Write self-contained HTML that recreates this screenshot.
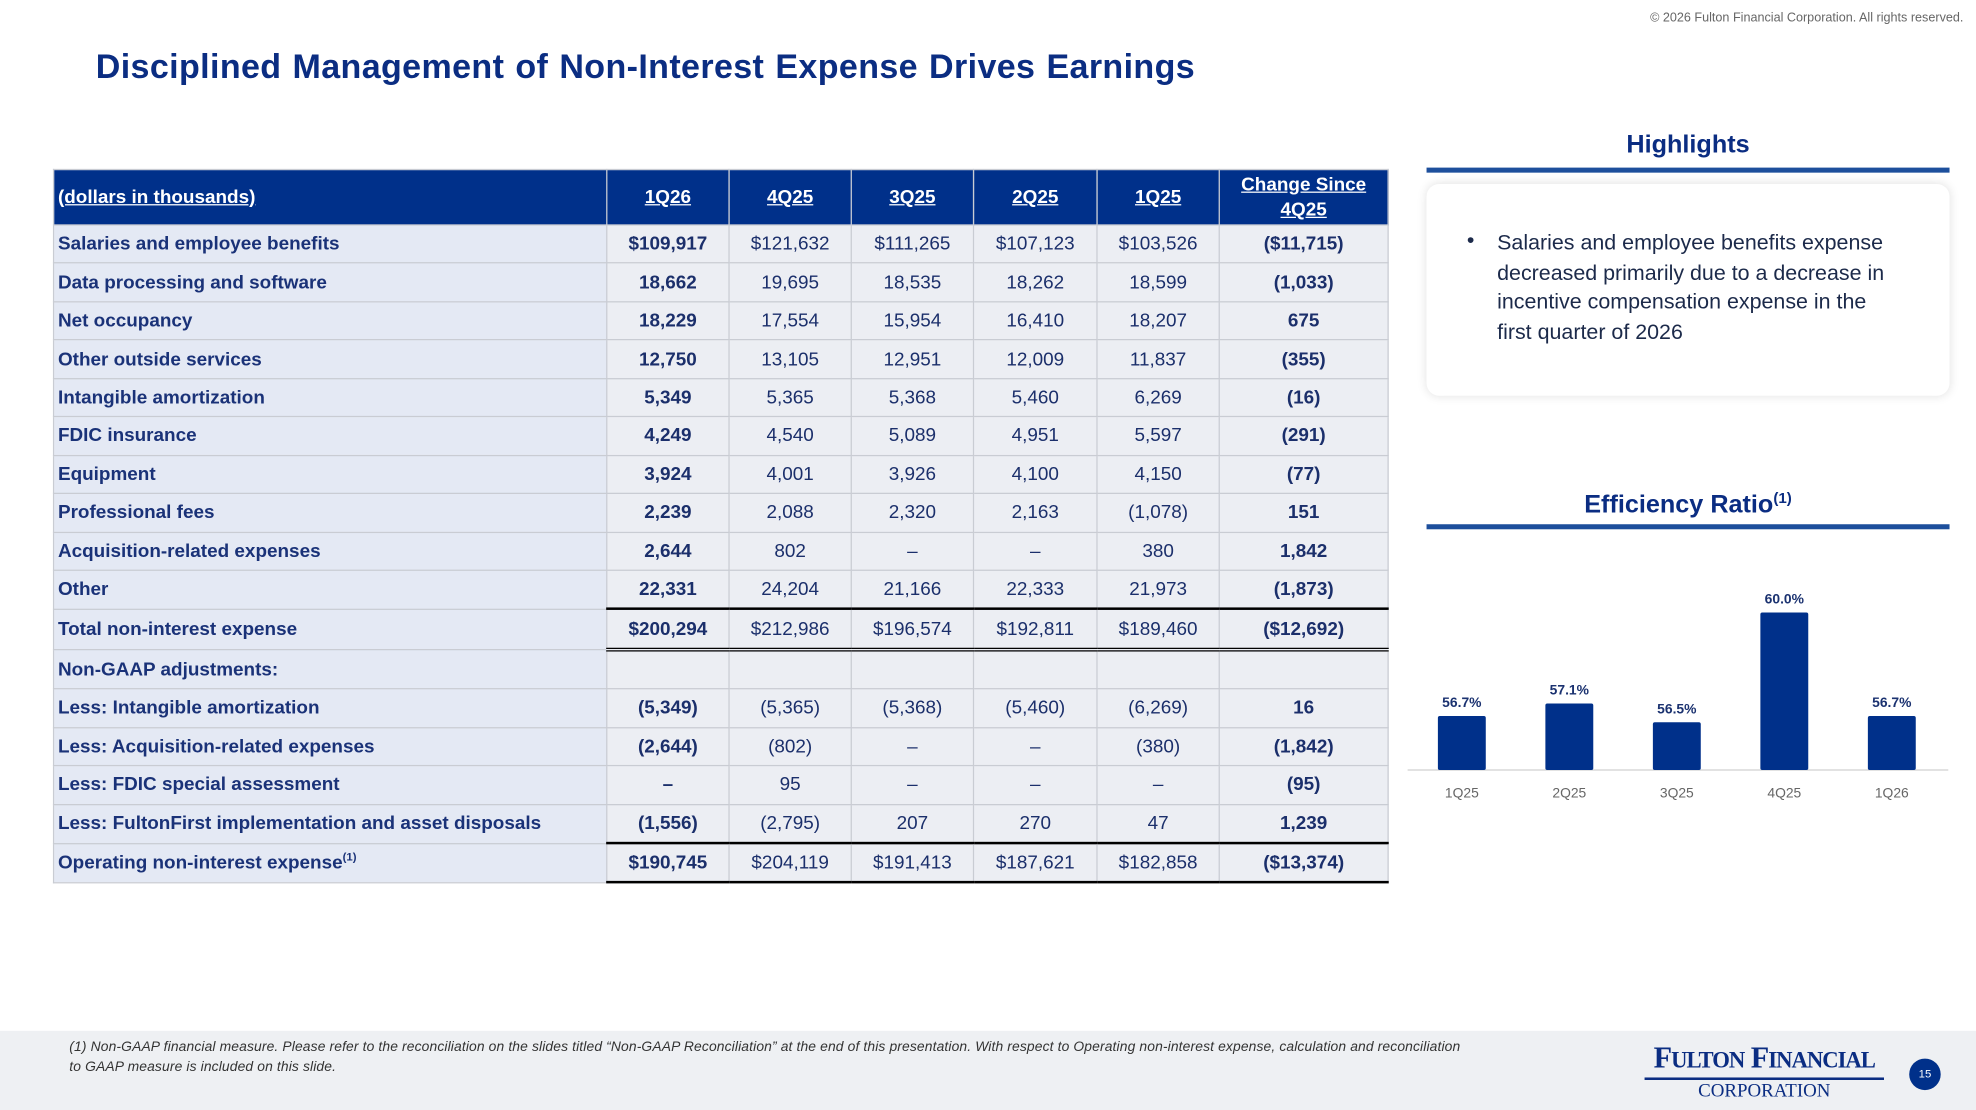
<!DOCTYPE html>
<html><head><meta charset="utf-8"><style>
body{margin:0;width:1976px;height:1110px;overflow:hidden;background:#fff;font-family:"Liberation Sans",sans-serif}
#s{position:absolute;left:0;top:0;width:1568px;height:881px;transform:scale(1.26020);transform-origin:0 0}
.a{position:absolute}
table{border-collapse:collapse;position:absolute;left:42px;top:134px;width:1059px;table-layout:fixed;font-size:15px;color:#1b2f6b}
td,th{height:29.45px;padding:0 3px;border:1px solid #c9ccd3;text-align:center;background:#eceef3}
td:first-child{text-align:left;font-weight:bold;background:#e4e9f4;color:#1a3278}
th{background:#00308a;color:#fff;height:43px;text-decoration:underline;font-weight:bold;border-color:#c9ccd3;line-height:20px}
th:first-child{text-align:left}
.b{font-weight:bold}
.t td:not(:first-child){border-top:2px solid #000;border-bottom:3px double #000}
.o td:not(:first-child){border-top:2px solid #000;border-bottom:2px solid #000}
</style></head><body><div id="s">
<div class="a" style="right:10px;top:9px;font-size:10px;color:#666">© 2026 Fulton Financial Corporation. All rights reserved.</div>
<div class="a" style="left:76px;top:38px;font-size:27px;font-weight:bold;color:#0b2d82;letter-spacing:0.3px;word-spacing:1px">Disciplined Management of Non-Interest Expense Drives Earnings</div>
<table>
<colgroup><col style="width:439px"><col style="width:97px"><col style="width:97px"><col style="width:97px"><col style="width:98px"><col style="width:97px"><col style="width:134px"></colgroup>
<tr><th>(dollars in thousands)</th><th>1Q26</th><th>4Q25</th><th>3Q25</th><th>2Q25</th><th>1Q25</th><th>Change Since 4Q25</th></tr>
<tr><td>Salaries and employee benefits</td><td class="b">$109,917</td><td>$121,632</td><td>$111,265</td><td>$107,123</td><td>$103,526</td><td class="b">($11,715)</td></tr>
<tr><td>Data processing and software</td><td class="b">18,662</td><td>19,695</td><td>18,535</td><td>18,262</td><td>18,599</td><td class="b">(1,033)</td></tr>
<tr><td>Net occupancy</td><td class="b">18,229</td><td>17,554</td><td>15,954</td><td>16,410</td><td>18,207</td><td class="b">675</td></tr>
<tr><td>Other outside services</td><td class="b">12,750</td><td>13,105</td><td>12,951</td><td>12,009</td><td>11,837</td><td class="b">(355)</td></tr>
<tr><td>Intangible amortization</td><td class="b">5,349</td><td>5,365</td><td>5,368</td><td>5,460</td><td>6,269</td><td class="b">(16)</td></tr>
<tr><td>FDIC insurance</td><td class="b">4,249</td><td>4,540</td><td>5,089</td><td>4,951</td><td>5,597</td><td class="b">(291)</td></tr>
<tr><td>Equipment</td><td class="b">3,924</td><td>4,001</td><td>3,926</td><td>4,100</td><td>4,150</td><td class="b">(77)</td></tr>
<tr><td>Professional fees</td><td class="b">2,239</td><td>2,088</td><td>2,320</td><td>2,163</td><td>(1,078)</td><td class="b">151</td></tr>
<tr><td>Acquisition-related expenses</td><td class="b">2,644</td><td>802</td><td>–</td><td>–</td><td>380</td><td class="b">1,842</td></tr>
<tr><td>Other</td><td class="b">22,331</td><td>24,204</td><td>21,166</td><td>22,333</td><td>21,973</td><td class="b">(1,873)</td></tr>
<tr class="t"><td>Total non-interest expense</td><td class="b">$200,294</td><td>$212,986</td><td>$196,574</td><td>$192,811</td><td>$189,460</td><td class="b">($12,692)</td></tr>
<tr><td>Non-GAAP adjustments:</td><td></td><td></td><td></td><td></td><td></td><td></td></tr>
<tr><td>Less: Intangible amortization</td><td class="b">(5,349)</td><td>(5,365)</td><td>(5,368)</td><td>(5,460)</td><td>(6,269)</td><td class="b">16</td></tr>
<tr><td>Less: Acquisition-related expenses</td><td class="b">(2,644)</td><td>(802)</td><td>–</td><td>–</td><td>(380)</td><td class="b">(1,842)</td></tr>
<tr><td>Less: FDIC special assessment</td><td class="b">–</td><td>95</td><td>–</td><td>–</td><td>–</td><td class="b">(95)</td></tr>
<tr><td>Less: FultonFirst implementation and asset disposals</td><td class="b">(1,556)</td><td>(2,795)</td><td>207</td><td>270</td><td>47</td><td class="b">1,239</td></tr>
<tr class="o"><td>Operating non-interest expense<sup style="font-size:9px;line-height:0">(1)</sup></td><td class="b">$190,745</td><td>$204,119</td><td>$191,413</td><td>$187,621</td><td>$182,858</td><td class="b">($13,374)</td></tr>
</table>
<div class="a" style="left:1132px;width:415px;top:104px;text-align:center;font-size:20px;font-weight:bold;color:#0b2d82">Highlights</div>
<div class="a" style="left:1132px;top:133px;width:415px;height:4px;background:#1d4f9c"></div>
<div class="a" style="left:1132px;top:146px;width:415px;height:168px;background:#fff;border-radius:10px;box-shadow:0 0 8px rgba(0,0,0,.12)"></div>
<div class="a" style="left:1188px;top:181px;width:318px;font-size:17px;line-height:23.6px;color:#1c2a4a">Salaries and employee benefits expense decreased primarily due to a decrease in incentive compensation expense in the first quarter of 2026</div>
<div class="a" style="left:1164px;top:181px;font-size:17px;color:#1c2a4a">•</div>
<div class="a" style="left:1132px;width:415px;top:388px;text-align:center;font-size:20px;font-weight:bold;color:#0b2d82">Efficiency Ratio<sup style="font-size:12px">(1)</sup></div>
<div class="a" style="left:1132px;top:416px;width:415px;height:4px;background:#1d4f9c"></div>
<svg class="a" style="left:0;top:0" width="1568" height="881" id="ch"></svg>
<div class="a" style="left:0;top:818px;width:1568px;height:63px;background:#eef0f3"></div>
<div class="a" style="left:55px;top:824px;width:1105px;font-size:11px;font-style:italic;color:#333;line-height:15.5px;letter-spacing:0.1px">(1) Non-GAAP financial measure. Please refer to the reconciliation on the slides titled “Non-GAAP Reconciliation” at the end of this presentation. With respect to Operating non-interest expense, calculation and reconciliation to GAAP measure is included on this slide.</div>
<div class="a" style="left:1305px;top:826px;width:190px;text-align:center;font-family:'Liberation Serif',serif;color:#0b2d82">
<div style="font-size:24px;font-weight:bold;letter-spacing:-0.8px;border-bottom:2px solid #0b2d82;line-height:28px">F<span style="font-size:18px">ULTON</span> F<span style="font-size:18px">INANCIAL</span></div>
<div style="font-size:15px;line-height:18px">CORPORATION</div></div>
<div class="a" style="left:1515px;top:840px;width:25px;height:25px;border-radius:50%;background:#00308a;color:#fff;font-size:9px;text-align:center;line-height:25px">15</div>
</div>
<script>
const cats=["1Q25","2Q25","3Q25","4Q25","1Q26"];
const vals=[56.7,57.1,56.5,60.0,56.7];
const labels=["56.7%","57.1%","56.5%","60.0%","56.7%"];
const svg=document.getElementById('ch');const NS="http://www.w3.org/2000/svg";
const base=611,minV=54.98,ppu=24.9,x0=1160,dx=85.3,bw=38;
const y=v=>base-(v-minV)*ppu, x=i=>x0+i*dx;
function mk(t,a){const e=document.createElementNS(NS,t);for(const k in a)e.setAttribute(k,a[k]);svg.appendChild(e);return e;}
const ax=mk('line',{x1:1117,x2:1546,y1:base,y2:base,stroke:'#d0d0d0','stroke-width':1});


vals.forEach((v,i)=>{
 const r=mk('rect',{x:x(i)-bw/2,y:y(v),width:bw,height:base-y(v),fill:'#00308a',rx:1.5});
 
 
 const t=mk('text',{x:x(i),y:y(v)-7,'text-anchor':'middle','font-size':11,'font-weight':'bold',fill:'#1b3270','font-family':'Liberation Sans,sans-serif'});
 t.textContent=labels[i];
 
 
 const c=mk('text',{x:x(i),y:633,'text-anchor':'middle','font-size':11,fill:'#666','font-family':'Liberation Sans,sans-serif'});
 c.textContent=cats[i];
 
 
});
</script>
</body></html>
